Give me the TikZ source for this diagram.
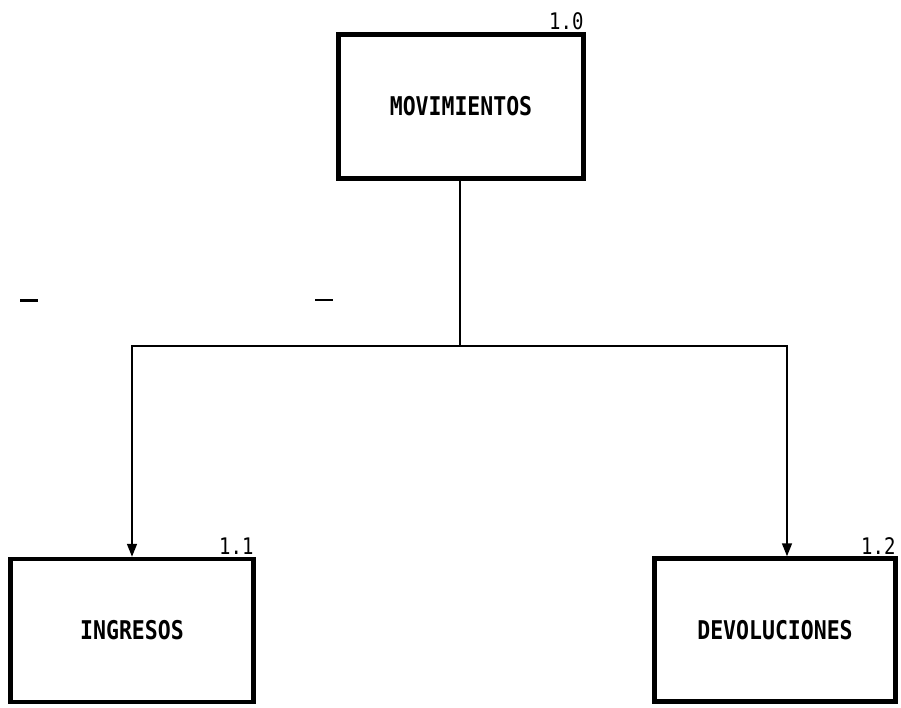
\documentclass[tikz,border=0pt]{standalone}
\usepackage{fontspec}
\setmonofont{DejaVu Sans Mono}
\usetikzlibrary{arrows.meta}
\newcommand{\plottxt}[1]{\scalebox{1}[1.2]{#1}}
\begin{document}
\begin{tikzpicture}[x=1pt,y=1pt,yscale=-1,xscale=1,
    procbox/.style={draw,line width=4.5pt,inner sep=0pt,font=\ttfamily\bfseries\fontsize{21.5}{24}\selectfont},
    numlabel/.style={anchor=south east,inner sep=2pt,font=\ttfamily\fontsize{19}{20}\selectfont},
    flow/.style={line width=1.6pt,-{Triangle[width=10pt,length=13pt]}}]
        \useasboundingbox (0,0) rectangle (901,707);
        % Text Node
        \node (mov) [procbox,minimum width=245,minimum height=144] at (461,106.5) {\plottxt{MOVIMIENTOS}};
        % Text Node
        \node (ing) [procbox,minimum width=243,minimum height=143] at (132,630.5) {\plottxt{INGRESOS}};
        % Text Node
        \node (dev) [procbox,minimum width=241,minimum height=143] at (775,630) {\plottxt{DEVOLUCIONES}};
        % Text Node
        \node (n10) [numlabel] at (mov.north east) {\plottxt{1.0}};
        % Text Node
        \node (n11) [numlabel] at (ing.north east) {\plottxt{1.1}};
        % Text Node
        \node (n12) [numlabel] at (dev.north east) {\plottxt{1.2}};
        % Connection
        \coordinate (split) at (460,346);
        \coordinate (lcorner) at (132,346);
        \coordinate (rcorner) at (787,346);
        \draw [line width=1.6pt] (mov.south -| split) -- (split) ;
        % Connection
        \draw [flow] (split) -- (lcorner) -- (ing.north) ;
        % Connection
        \draw [flow] (split) -- (rcorner) -- (rcorner |- dev.north) ;
        % Scan marks
        \draw [line width=3pt] (20,300) -- (38,300) ;
        \draw [line width=2.5pt] (315,300) -- (333,300) ;
    \end{tikzpicture}
\end{document}
